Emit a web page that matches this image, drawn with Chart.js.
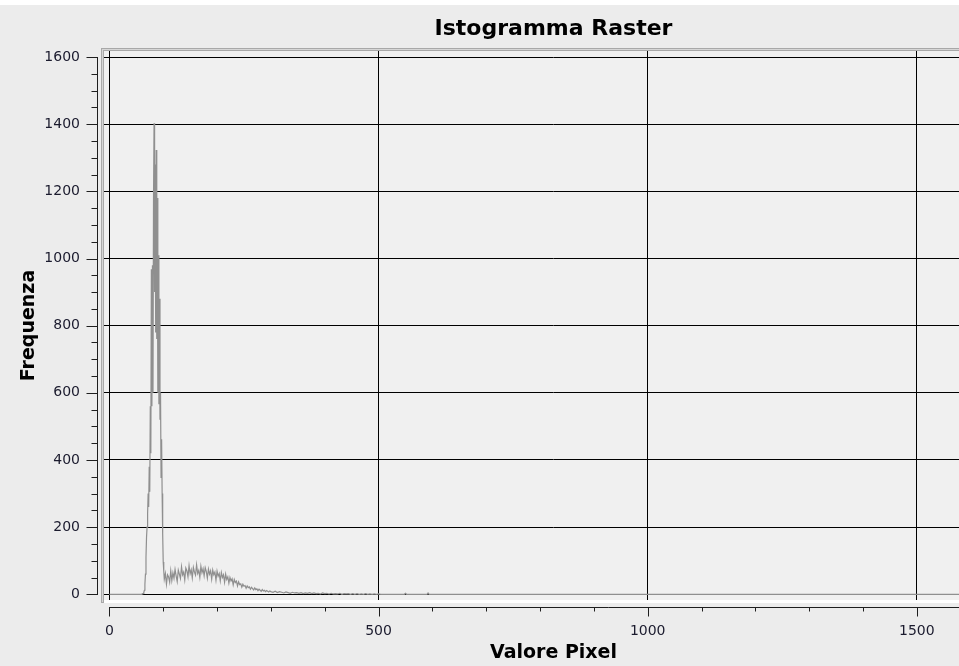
<!DOCTYPE html>
<html>
<head>
<meta charset="utf-8">
<script src="https://cdn.jsdelivr.net/npm/chart.js@4/dist/chart.umd.min.js"></script>
<style>
  html, body { margin: 0; padding: 0; background: #ececec; overflow: hidden; }
  #wrap { width: 959px; height: 666px; overflow: hidden; position: relative; }
  #histo { display: block; }
</style>
</head>
<body>
<div id="wrap">
  <canvas id="histo" width="1107" height="666"></canvas>
</div>
<script>
// raster histogram (pixel value -> count)
const pixelValues = [
  0, 58, 60, 61, 62, 63, 64, 65, 66, 67, 68, 69, 70, 71, 72, 73, 74, 75, 76, 77, 78, 79,
  80, 81, 82, 83, 84, 85, 86, 87, 88, 89, 90, 91, 92, 93, 94, 95, 96, 97, 98, 99, 100, 101,
  102, 104, 106, 108, 110, 112, 114, 116, 118, 120, 122, 124, 126, 128, 130, 132, 134, 136, 138, 140,
  142, 144, 146, 148, 150, 152, 154, 156, 158, 160, 162, 164, 166, 168, 170, 172, 174, 176, 178, 180,
  182, 184, 186, 188, 190, 192, 194, 196, 198, 200, 202, 204, 206, 208, 210, 212, 214, 216, 218, 220,
  222, 224, 226, 228, 230, 232, 234, 236, 238, 240, 242, 244, 246, 248, 250, 252, 254, 256, 258, 260,
  262, 264, 266, 268, 270, 272, 274, 276, 278, 280, 282, 284, 286, 288, 290, 292, 294, 296, 298, 300,
  304, 308, 312, 316, 320, 324, 328, 332, 336, 340, 344, 348, 352, 356, 360, 364, 368, 372, 376, 380,
  384, 388, 392, 396, 400, 404, 408, 412, 416, 420, 424, 428, 432, 436, 440, 444, 448, 452, 456, 460,
  464, 468, 472, 476, 480, 484, 488, 492, 496, 500, 504, 548, 550, 552, 590, 592, 594, 1660
];
const frequencies = [
  0, 0, 0, 1, 2, 3, 6, 12, 30, 60, 110, 170, 200, 240, 300, 260, 380, 305, 560, 420, 968, 560,
  980, 600, 1180, 1403, 900, 1280, 780, 1323, 760, 1180, 600, 1010, 566, 880, 520, 600, 348, 462, 300, 180, 96, 70,
  45, 62, 30, 58, 52, 36, 70, 41, 64, 48, 74, 55, 38, 72, 60, 47, 82, 58, 66, 43,
  78, 70, 52, 85, 61, 73, 49, 80, 66, 57, 88, 62, 71, 50, 83, 64, 76, 55, 79, 68,
  48, 75, 60, 70, 45, 72, 58, 66, 42, 69, 54, 62, 40, 65, 50, 58, 36, 60, 44, 52,
  33, 50, 40, 46, 28, 44, 35, 39, 25, 37, 29, 31, 21, 30, 24, 26, 18, 25, 20, 22,
  15, 21, 17, 13, 19, 14, 16, 11, 15, 12, 9, 14, 10, 12, 8, 11, 9, 7, 10, 8,
  6, 9, 5, 8, 6, 4, 7, 5, 3, 6, 4, 5, 3, 5, 2, 4, 3, 5, 2, 4,
  2, 3, 1, 4, 2, 3, 1, 3, 1, 2, 1, 3, 0, 2, 1, 2, 0, 2, 0, 2,
  0, 1, 0, 2, 0, 1, 0, 1, 0, 1, 0, 0, 3, 0, 0, 4, 0, 0
];

const xTicks = [0, 500, 1000, 1500];
const yTicks = [0, 200, 400, 600, 800, 1000, 1200, 1400, 1600];

const tickFont = { family: 'DejaVu Sans', size: 14 };
const boldFont = { family: 'DejaVu Sans', size: 19, weight: 'bold' };

const points = pixelValues.map((v, i) => ({ x: v, y: frequencies[i] }));

// qwt-like frame, offset axes and minor ticks
const qwtLook = {
  id: 'qwtLook',
  beforeDraw(chart) {
    const { ctx, chartArea: a, width, height } = chart;
    ctx.save();
    ctx.fillStyle = '#ececec';
    ctx.fillRect(0, 0, width, height);
    ctx.fillStyle = '#ffffff';
    ctx.fillRect(0, 0, width, 5);
    // sunken canvas frame
    ctx.fillStyle = '#a8a8a8';
    ctx.fillRect(a.left - 3, a.top - 3, a.right - a.left + 6, 3);
    ctx.fillRect(a.left - 3, a.top - 3, 3, a.bottom - a.top + 6);
    ctx.fillStyle = '#d6d6d6';
    ctx.fillRect(a.left - 2, a.top - 2, a.right - a.left + 4, 1);
    ctx.fillRect(a.left - 2, a.top - 2, 1, a.bottom - a.top + 4);
    ctx.fillStyle = '#ffffff';
    ctx.fillRect(a.left, a.bottom, a.right - a.left + 3, 3);
    ctx.fillRect(a.right, a.top, 3, a.bottom - a.top + 3);
    ctx.fillStyle = '#f0f0f0';
    ctx.fillRect(a.left, a.top, a.right - a.left, a.bottom - a.top);
    ctx.restore();
  },
  afterDraw(chart) {
    const { ctx, scales: { x, y }, width } = chart;
    ctx.save();
    ctx.strokeStyle = '#1e1e1e';
    ctx.lineWidth = 1;
    ctx.beginPath();
    // y axis
    const ax = 97.5;
    ctx.moveTo(ax, Math.round(y.getPixelForValue(1600)) + 0.5);
    ctx.lineTo(ax, Math.round(y.getPixelForValue(0)) + 0.5);
    for (let v = 0; v <= 1600; v += 50) {
      const py = Math.round(y.getPixelForValue(v)) + 0.5;
      const len = v % 200 === 0 ? 11 : 6;
      ctx.moveTo(ax + 0.5, py);
      ctx.lineTo(ax - len, py);
    }
    // x axis
    const ay = 607.5;
    ctx.moveTo(Math.round(x.getPixelForValue(0)) + 0.5, ay);
    ctx.lineTo(width, ay);
    for (let v = 0; v <= x.max; v += 100) {
      const px = Math.round(x.getPixelForValue(v)) + 0.5;
      const len = v % 500 === 0 ? 9 : 4;
      ctx.moveTo(px, ay - 0.5);
      ctx.lineTo(px, ay + len);
    }
    ctx.stroke();
    ctx.restore();
  }
};

new Chart(document.getElementById('histo'), {
  type: 'line',
  data: {
    datasets: [{
      label: 'Frequenza',
      data: points,
      borderColor: '#8f8f8f',
      borderWidth: 1.2,
      pointRadius: 0,
      tension: 0,
      fill: false
    }]
  },
  options: {
    responsive: false,
    animation: false,
    events: [],
    layout: { padding: 0 },
    plugins: {
      legend: { display: false },
      tooltip: { enabled: false },
      title: {
        display: true,
        text: 'Istogramma Raster',
        color: '#000',
        font: { family: 'DejaVu Sans', size: 22, weight: 'bold' },
        padding: { top: 16, bottom: 8.6 }
      }
    },
    scales: {
      x: {
        type: 'linear',
        min: -10,
        max: 1660,
        afterBuildTicks: s => { s.ticks = xTicks.map(v => ({ value: v })); },
        afterFit: s => { s.height = 66; },
        grid: { color: '#000', lineWidth: 1, drawTicks: false },
        border: { display: false },
        ticks: { font: tickFont, color: '#1b1b2e', padding: 22.6, maxRotation: 0, callback: v => String(v) },
        title: { display: true, text: 'Valore Pixel', color: '#000', font: boldFont, padding: { top: 0, bottom: 1.6 } }
      },
      y: {
        type: 'linear',
        min: -17,
        max: 1618,
        afterBuildTicks: s => { s.ticks = yTicks.map(v => ({ value: v })); },
        afterFit: s => { s.width = 104; },
        grid: { color: '#000', lineWidth: 1, drawTicks: false },
        border: { display: false },
        ticks: { font: tickFont, color: '#1b1b2e', padding: 24, callback: v => String(v) },
        title: { display: true, text: 'Frequenza', color: '#000', font: boldFont, padding: { top: 17.6, bottom: 0 } }
      },
      yRight: {
        position: 'right',
        display: true,
        afterFit: s => { s.width = 104; },
        grid: { display: false },
        border: { display: false },
        ticks: { display: false }
      }
    }
  },
  plugins: [qwtLook]
});
</script>
</body>
</html>
